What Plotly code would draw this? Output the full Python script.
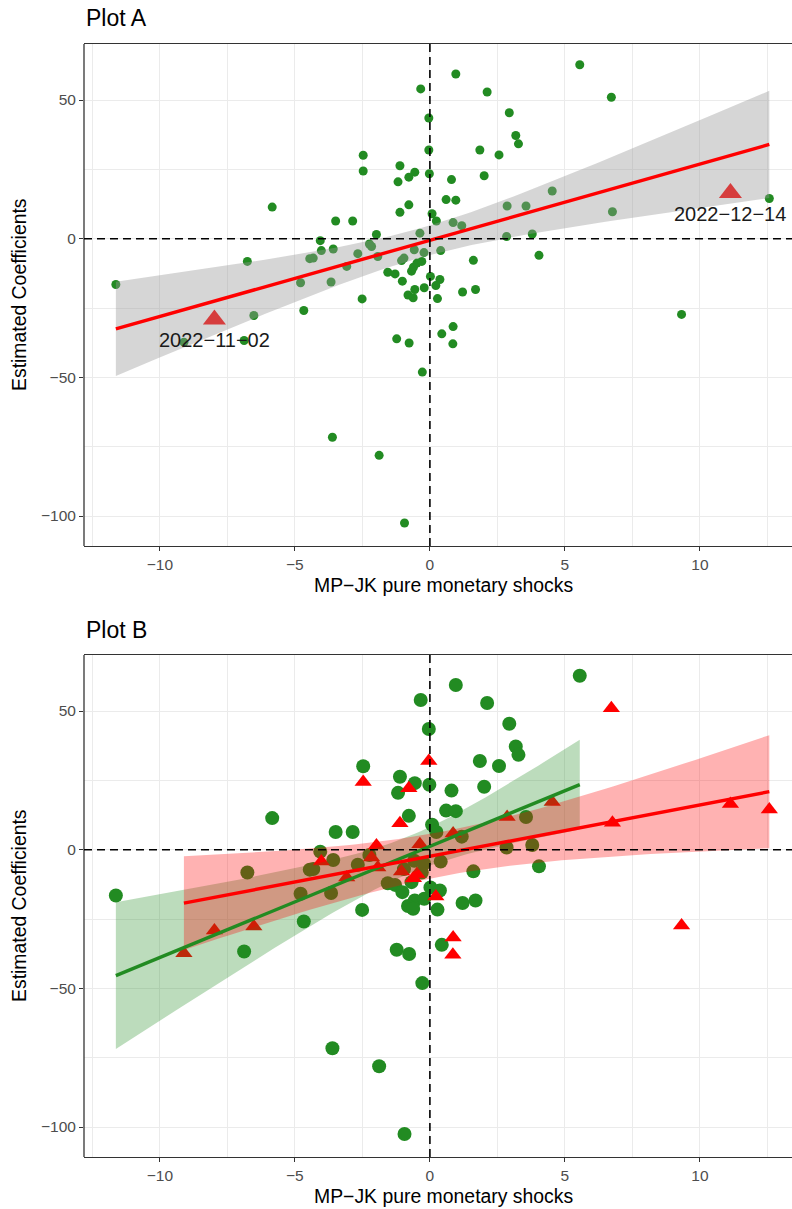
import numpy as np
import plotly.graph_objects as go

# ---------------- data ----------------
shock_x = [-0.34, -0.04, -0.04, -2.47, -2.47, -1.11, -0.56, -0.78, -1.18, -0.02,
           -5.84, -0.78, -1.11, 0.08, -3.49, -2.86, -1.98, -4.06, -2.24, -2.16,
           -0.37, 0.96, 5.55, 2.12, 6.72, 2.94, 3.18, 3.28, 1.85, 2.56,
           0.80, 2.01, 0.60, 0.96, 4.53, 0.24, 0.86, 1.18, 2.86, 3.56,
           2.84, 3.79, 6.76, 12.57, 11.13, -11.63, -6.76, -4.79, -3.66, -4.67,
           -6.52, -9.11, -6.88, -7.98, -4.45, -4.32, -4.02, -3.58, -3.08, -2.67,
           -1.93, -2.51, -1.56, -1.29, -1.02, -1.05, -0.96, -0.68, -0.61, -0.48,
           -0.30, -0.56, -0.21, -0.81, -0.62, -1.23, -0.77, -0.28, 0.02, 0.37,
           0.22, 0.28, 0.40, 1.21, 1.69, 1.61, 4.04, 9.32, 0.86, 0.44,
           0.85, -3.61, -1.88, -0.94, -0.58, -0.22]
coef_y = [54.0, 43.5, 32.0, 30.1, 24.4, 26.3, 24.0, 22.2, 20.5, 23.4,
          11.4, 12.2, 9.5, 9.0, 6.4, 6.4, 1.5, -0.7, -1.9, -2.8,
          2.0, 59.4, 62.7, 52.9, 51.0, 45.4, 37.2, 34.2, 32.0, 30.2,
          21.3, 22.7, 14.1, 13.9, 17.2, 6.4, 5.8, 4.7, 11.8, 11.8,
          0.8, 1.7, 9.7, 14.5, 16.5, -16.5, -8.2, -15.9, -15.6, -25.9,
          -27.7, -37.3, -36.7, -29.1, -7.2, -7.0, -4.3, -3.7, -10.0, -5.4,
          -6.4, -21.7, -12.1, -12.7, -15.3, -7.9, -7.0, -11.7, -10.3, -8.8,
          -8.2, -18.3, -17.7, -20.3, -21.3, -36.1, -37.6, -48.1, -13.6, -14.7,
          -16.9, -21.6, -4.3, -19.2, -18.3, -7.8, -6.0, -27.3, -31.7, -34.3,
          -37.9, -71.6, -78.1, -102.5, -4.0, -5.0]
group = ["G", "G", "R", "G", "R", "G", "G", "R", "G", "G",
         "G", "G", "R", "G", "G", "G", "R", "G", "G", "R",
         "R", "G", "G", "G", "R", "G", "G", "G", "G", "G",
         "G", "G", "G", "G", "R", "G", "R", "G", "R", "G",
         "G", "G", "R", "R", "R", "G", "G", "G", "G", "G",
         "R", "R", "G", "R", "G", "G", "R", "G", "R", "G",
         "R", "G", "G", "G", "G", "R", "G", "G", "R", "R",
         "G", "G", "G", "G", "G", "G", "G", "G", "G", "G",
         "R", "G", "G", "G", "G", "G", "G", "R", "R", "G",
         "R", "G", "G", "G", "G", "G"]
highlight_idx = [53, 44]
highlight_labels = ["2022\u221211\u221202", "2022\u221212\u221214"]

x_ticks = [-10, -5, 0, 5, 10]
y_ticks = [-100, -50, 0, 50]
x_title = "MP\u2212JK pure monetary shocks"
y_title = "Estimated Coefficients"
titles = ["Plot A", "Plot B"]

# ---------------- helpers ----------------
X = np.array(shock_x)
Y = np.array(coef_y)
G = np.array(group)


def tq(df):
    z = 1.959964
    return z + (z**3 + z) / (4 * df) + (5 * z**5 + 16 * z**3 + 3 * z) / (96 * df**2)


def lm_fit(x, y, n=80):
    n_obs = len(x)
    b1, b0 = np.polyfit(x, y, 1)
    res = y - (b0 + b1 * x)
    s = np.sqrt((res**2).sum() / (n_obs - 2))
    xs = np.linspace(x.min(), x.max(), n)
    yh = b0 + b1 * xs
    se = s * np.sqrt(1 / n_obs + (xs - x.mean())**2 / ((x - x.mean())**2).sum())
    t = tq(n_obs - 2)
    return xs, yh, yh - t * se, yh + t * se


W, H = 792, 1209
FONT = "Liberation Sans, Arial, Helvetica, sans-serif"
GREEN = "#228B22"

fig = go.Figure()

# ---------- Plot A ----------
fig.add_trace(go.Scatter(x=X, y=Y, mode="markers", xaxis="x", yaxis="y",
                         marker=dict(color=GREEN, size=9, line=dict(width=0)),
                         showlegend=False, hoverinfo="skip"))
hx = X[highlight_idx]
hy = Y[highlight_idx]
fig.add_trace(go.Scatter(x=hx, y=hy, mode="markers", xaxis="x", yaxis="y",
                         marker=dict(color="#FF0000", size=20, symbol="triangle-up",
                                     line=dict(width=0)),
                         showlegend=False, hoverinfo="skip"))
xs, yh, lo, hi = lm_fit(X, Y)
fig.add_trace(go.Scatter(x=np.concatenate([xs, xs[::-1]]), y=np.concatenate([hi, lo[::-1]]),
                         fill="toself", fillcolor="rgba(153,153,153,0.4)", mode="lines",
                         line=dict(width=0), xaxis="x", yaxis="y",
                         showlegend=False, hoverinfo="skip"))
fig.add_trace(go.Scatter(x=xs, y=yh, mode="lines", xaxis="x", yaxis="y",
                         line=dict(color="#FF0000", width=3.4),
                         showlegend=False, hoverinfo="skip"))

# ---------- Plot B ----------
mg = G == "G"
mr = G == "R"
fig.add_trace(go.Scatter(x=X[mg], y=Y[mg], mode="markers", xaxis="x2", yaxis="y2",
                         marker=dict(color=GREEN, size=14, line=dict(width=0)),
                         showlegend=False, hoverinfo="skip"))
fig.add_trace(go.Scatter(x=X[mr], y=Y[mr], mode="markers", xaxis="x2", yaxis="y2",
                         marker=dict(color="#FF0000", size=15, symbol="triangle-up",
                                     line=dict(width=0)),
                         showlegend=False, hoverinfo="skip"))
for m, col, fcol in [(mg, GREEN, "rgba(34,139,34,0.3)"), (mr, "#FF0000", "rgba(255,0,0,0.3)")]:
    xs, yh, lo, hi = lm_fit(X[m], Y[m])
    fig.add_trace(go.Scatter(x=np.concatenate([xs, xs[::-1]]), y=np.concatenate([hi, lo[::-1]]),
                             fill="toself", fillcolor=fcol, mode="lines",
                             line=dict(width=0), xaxis="x2", yaxis="y2",
                             showlegend=False, hoverinfo="skip"))
for m, col in [(mg, GREEN), (mr, "#FF0000")]:
    xs, yh, lo, hi = lm_fit(X[m], Y[m])
    fig.add_trace(go.Scatter(x=xs, y=yh, mode="lines", xaxis="x2", yaxis="y2",
                             line=dict(color=col, width=3.4),
                             showlegend=False, hoverinfo="skip"))

# ---------- layout ----------
L_M = 84
plot_w = W - L_M
XR = [-12.81, 13.41]
YR = [-110.8, 70.2]


def py(px):  # pixel from top -> paper y
    return (H - px) / H


def pxp(px):  # pixel from left -> paper x
    return (px - L_M) / plot_w


dom_a = [py(546), py(44)]
dom_b = [py(1157), py(655)]

axis_common = dict(
    showgrid=True, gridcolor="#EBEBEB", gridwidth=1.3,
    zeroline=False, linecolor="#333333", linewidth=1.3,
    ticks="outside", ticklen=4, tickwidth=1.3, tickcolor="#333333",
    tickfont=dict(family=FONT, size=15.5, color="#4D4D4D"),
)
xa = dict(axis_common, range=XR, tickmode="array", tickvals=x_ticks, showline=True, mirror=True,
          minor=dict(tickmode="array", tickvals=[-12.5, -7.5, -2.5, 2.5, 7.5, 12.5],
                     showgrid=True, gridcolor="#EBEBEB", gridwidth=0.7, ticks=""))
ya = dict(axis_common, range=YR, tickmode="array", tickvals=y_ticks, showline=False,
          minor=dict(tickmode="array", tickvals=[-75, -25, 25],
                     showgrid=True, gridcolor="#EBEBEB", gridwidth=0.7, ticks=""))

fig.update_layout(
    width=W, height=H,
    margin=dict(l=L_M, r=0, t=0, b=0),
    paper_bgcolor="white", plot_bgcolor="white",
    xaxis=dict(xa, domain=[0, 1], anchor="y"),
    yaxis=dict(ya, domain=dom_a, anchor="x"),
    xaxis2=dict(xa, domain=[0, 1], anchor="y2"),
    yaxis2=dict(ya, domain=dom_b, anchor="x2"),
    font=dict(family=FONT),
)

shapes = []
for xr, yr in [("x", "y"), ("x2", "y2")]:
    # left panel border
    shapes.append(dict(type="line", xref=xr + " domain", yref=yr + " domain", x0=0, x1=0,
                       y0=0, y1=1, line=dict(color="#333333", width=1.3), layer="above"))
    shapes.append(dict(type="line", xref=xr, yref=yr + " domain", x0=0, x1=0, y0=0, y1=1,
                       line=dict(color="black", width=1.6, dash="8px,5px"), layer="above"))
    shapes.append(dict(type="line", xref=xr + " domain", yref=yr, x0=0, x1=1, y0=0, y1=0,
                       line=dict(color="black", width=1.6, dash="8px,5px"), layer="above"))
fig.update_layout(shapes=shapes)

ann = []
for i, lab in zip(highlight_idx, highlight_labels):
    ann.append(dict(x=X[i], y=Y[i], xref="x", yref="y", text=lab, showarrow=False,
                    yshift=-21, font=dict(family=FONT, size=20, color="#1A1A1A")))
for t, ytop in [(titles[0], 18), (titles[1], 630)]:
    ann.append(dict(x=0, y=py(ytop), xref="paper", yref="paper", text=t, showarrow=False,
                    xanchor="left", yanchor="middle", font=dict(family=FONT, size=23, color="black")))
for ymid, yx in [((44 + 546) / 2, 585), ((655 + 1157) / 2, 1196)]:
    ann.append(dict(x=pxp(443), y=py(yx), xref="paper", yref="paper", text=x_title,
                    showarrow=False, xanchor="center", yanchor="middle",
                    font=dict(family=FONT, size=19.4, color="black")))
    ann.append(dict(x=pxp(19), y=py(ymid), xref="paper", yref="paper", text=y_title,
                    showarrow=False, textangle=-90, xanchor="center", yanchor="middle",
                    font=dict(family=FONT, size=19.4, color="black")))
fig.update_layout(annotations=ann)

fig.write_html("out.html", config={"displayModeBar": False},
               post_script="document.body.style.margin='0';document.body.style.overflow='hidden';")
